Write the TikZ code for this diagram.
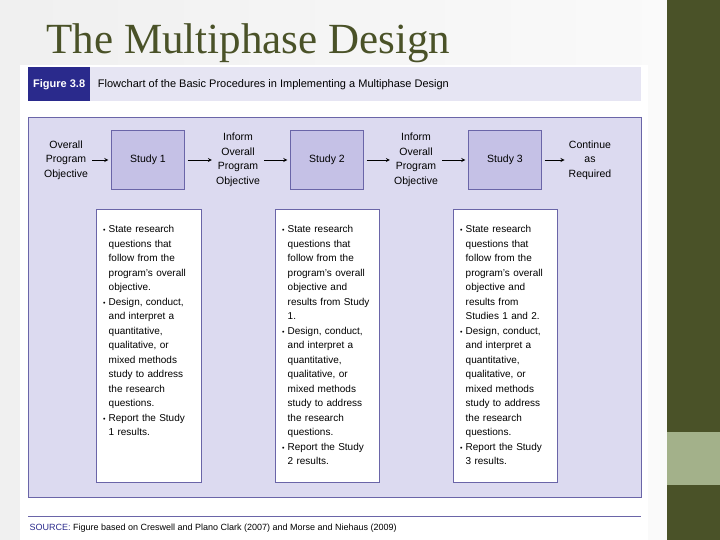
\documentclass[tikz,border=0pt]{standalone}
\usepackage{fontspec}
\setmainfont{Liberation Sans}
\newfontfamily\titlefont{Liberation Serif}
\usetikzlibrary{positioning}
\definecolor{olive}{HTML}{4A5228}
\definecolor{sage}{HTML}{A3B18A}
\definecolor{lav}{HTML}{DCDAF0}
\definecolor{lavhead}{HTML}{E6E5F3}
\definecolor{studyfill}{HTML}{C5C1E6}
\definecolor{edge}{HTML}{6A65A8}
\definecolor{figblue}{HTML}{2A2A8C}
\newcommand{\bpoint}[1]{\par\hangindent=0.55em\hangafter=1\noindent\makebox[0.55em][l]{\scriptsize\textbullet}#1\par}

\begin{document}
\begin{tikzpicture}[x=1pt,y=-1pt,font=\fontsize{10.5}{12}\selectfont,
    study/.style={draw=edge,fill=studyfill,minimum width=73pt,minimum height=59pt},
    steps/.style={draw=edge,fill=white,anchor=north west,inner sep=0pt},
    label/.style={align=center,inner sep=1pt,font=\fontsize{10.5}{14.5}\selectfont},
    flow/.style={->,>=stealth,thick,shorten >=3pt,shorten <=3pt}]
% background
\useasboundingbox (0,0) rectangle (720,540);
\shade[left color=white!88!gray,right color=white!96!gray] (0,0) rectangle (667,540);
\fill[olive] (667,0) rectangle (720,540);
\fill[sage] (667,432) rectangle (720,485);
\fill[white] (20,65) rectangle (648,540);
\node[anchor=base west,text=olive,font=\titlefont\fontsize{43}{46}\selectfont] at (43,54) {The Multiphase Design};
% header
\fill[lavhead] (28,67) rectangle (641,101);
\node[fill=figblue,text=white,font=\bfseries\fontsize{11}{12}\selectfont,minimum width=62pt,minimum height=34pt,anchor=north west] (fig) at (28,67) {Figure 3.8};
\node[right=4pt of fig,font=\fontsize{11}{12}\selectfont] {Flowchart of the Basic Procedures in Implementing a Multiphase Design};
% main frame
\draw[edge,fill=lav,thick] (28,117) rectangle (641,497);
\node[study] (s1) at (148,160) {Study 1};
\node[study] (s2) at (327,160) {Study 2};
\node[study] (s3) at (505,160) {Study 3};
\node[label] (obj) at (66,160) {Overall\\Program\\Objective};
\node[label] (inf1) at (238,160) {Inform\\Overall\\Program\\Objective};
\node[label] (inf2) at (416,160) {Inform\\Overall\\Program\\Objective};
\node[label] (cont) at (590,160) {Continue\\as\\Required};
\draw[flow] (obj) -- (s1);
\draw[flow] (s1) -- (inf1);
\draw[flow] (inf1) -- (s2);
\draw[flow] (s2) -- (inf2);
\draw[flow] (inf2) -- (s3);
\draw[flow] (s3) -- (cont);
% step boxes
\node[steps,minimum width=105pt,minimum height=273pt] (b1) at (96,209) {};
\node[steps,minimum width=104pt,minimum height=273pt] (b2) at (275,209) {};
\node[steps,minimum width=104pt,minimum height=273pt] (b3) at (453,209) {};
\foreach \b/\txt in {b1/{\bpoint{State research questions that follow from the program's overall objective.}\bpoint{Design, conduct, and interpret a quantitative, qualitative, or mixed methods study to address the research questions.}\bpoint{Report the Study 1 results.}},
    b2/{\bpoint{State research questions that follow from the program's overall objective and results from Study 1.}\bpoint{Design, conduct, and interpret a quantitative, qualitative, or mixed methods study to address the research questions.}\bpoint{Report the Study 2 results.}},
    b3/{\bpoint{State research questions that follow from the program's overall objective and results from Studies 1 and 2.}\bpoint{Design, conduct, and interpret a quantitative, qualitative, or mixed methods study to address the research questions.}\bpoint{Report the Study 3 results.}}}
  \node[anchor=north west,text width=90pt,inner sep=0pt,font=\fontsize{10}{14.5}\selectfont] at ([xshift=7pt,yshift=-9pt]\b.north west) {\raggedright\txt};
% source
\draw[edge,thick] (28,516) -- (641,516);
\node[anchor=west,font=\fontsize{9}{10}\selectfont] at (26,528) {\textcolor{figblue}{SOURCE:} Figure based on Creswell and Plano Clark (2007) and Morse and Niehaus (2009)};
\end{tikzpicture}
\end{document}
